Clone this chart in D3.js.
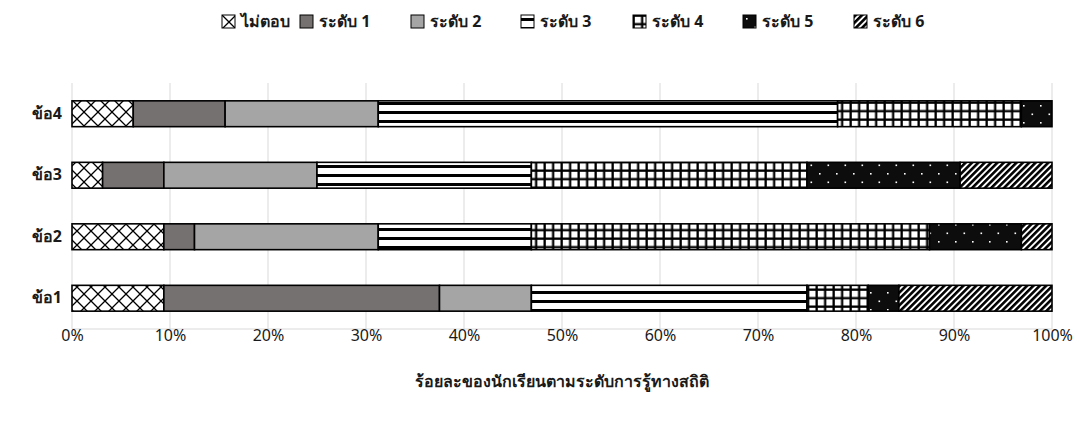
<!DOCTYPE html>
<html>
<head>
<meta charset="utf-8">
<script src="https://cdn.jsdelivr.net/npm/d3@7"></script>
<style>
  html, body { margin: 0; padding: 0; background: #fff; }
  svg { display: block; font-family: Tahoma, "Noto Sans", sans-serif; }
</style>
</head>
<body>
<svg id="chart" width="1080" height="426"></svg>
<script>
// Questions (bottom to top on the chart)
const questions = ["ข้อ1", "ข้อ2", "ข้อ3", "ข้อ4"];
// Response levels, in stacking order
const levels = ["ไม่ตอบ", "ระดับ 1", "ระดับ 2", "ระดับ 3", "ระดับ 4", "ระดับ 5", "ระดับ 6"];
// Percent of students per level, one value per question (ข้อ1..ข้อ4)
const noAnswer = [9.375, 9.375, 3.125, 6.25];
const level1   = [28.125, 3.125, 6.25, 9.375];
const level2   = [9.375, 18.75, 15.625, 15.625];
const level3   = [28.125, 15.625, 21.875, 46.875];
const level4   = [6.25, 40.625, 28.125, 18.75];
const level5   = [3.125, 9.375, 15.625, 3.125];
const level6   = [15.625, 3.125, 9.375, 0];
const xTicks = [0, 10, 20, 30, 40, 50, 60, 70, 80, 90, 100];
const xTitle = "ร้อยละของนักเรียนตามระดับการรู้ทางสถิติ";

const seriesValues = [noAnswer, level1, level2, level3, level4, level5, level6];
const rows = questions.map((q, i) => {
  const r = { q };
  levels.forEach((lv, j) => { r[lv] = seriesValues[j][i]; });
  return r;
});

const svg = d3.select("#chart");
const defs = svg.append("defs");
const textColor = "#1a1a1a";

// ---- fill patterns ----
function pat(id, w, h, extra) {
  const p = defs.append("pattern").attr("id", id)
    .attr("patternUnits", "userSpaceOnUse").attr("width", w).attr("height", h);
  if (extra) p.attr("patternTransform", extra);
  return p;
}
// diagonal cross lattice
{
  const p = pat("p0", 14, 14);
  p.append("rect").attr("width", 14).attr("height", 14).attr("fill", "#fff");
  p.append("path").attr("d", "M0,0L14,14M14,0L0,14").attr("stroke", "#000").attr("stroke-width", 1.3);
}
// horizontal bands
{
  const p = pat("p3", 9, 9);
  p.append("rect").attr("width", 9).attr("height", 9).attr("fill", "#fff");
  p.append("rect").attr("y", 3).attr("width", 9).attr("height", 3).attr("fill", "#000");
}
// square grid
{
  const p = pat("p4", 8.5, 8.5);
  p.append("rect").attr("width", 8.5).attr("height", 8.5).attr("fill", "#000");
  p.append("rect").attr("x", 1.8).attr("y", 1.8).attr("width", 6.2).attr("height", 6.2).attr("fill", "#fff");
}
// black with sparse dots
{
  const p = pat("p5", 17, 17);
  p.append("rect").attr("width", 17).attr("height", 17).attr("fill", "#0d0d0d");
  p.append("rect").attr("x", 3).attr("y", 3).attr("width", 1.6).attr("height", 1.6).attr("fill", "#fff");
  p.append("rect").attr("x", 11.5).attr("y", 11.5).attr("width", 1.6).attr("height", 1.6).attr("fill", "#fff");
}
// wide upward diagonal
{
  const p = pat("p6", 4.5, 4.5, "rotate(45)");
  p.append("rect").attr("width", 4.5).attr("height", 4.5).attr("fill", "#fff");
  p.append("rect").attr("width", 2.6).attr("height", 4.5).attr("fill", "#000");
}
const fills = ["url(#p0)", "#767171", "#a5a5a5", "url(#p3)", "url(#p4)", "url(#p5)", "url(#p6)"];
const color = d3.scaleOrdinal().domain(levels).range(fills);

// ---- scales ----
const x = d3.scaleLinear().domain([0, 100]).range([72, 1052]);
const y = d3.scaleBand().domain(questions.slice().reverse()).range([83, 329])
  .paddingInner(0.58).paddingOuter(0.29);

// gridlines
svg.append("g").selectAll("line").data(xTicks).join("line")
  .attr("x1", d => x(d)).attr("x2", d => x(d))
  .attr("y1", 83).attr("y2", 329)
  .attr("stroke", "#d9d9d9").attr("stroke-width", 1);
svg.append("line").attr("x1", x(0)).attr("x2", x(100)).attr("y1", 329).attr("y2", 329)
  .attr("stroke", "#d9d9d9").attr("stroke-width", 1);

// ---- stacked bars ----
const stacked = d3.stack().keys(levels)(rows);
svg.append("g").selectAll("g").data(stacked).join("g")
  .attr("fill", d => color(d.key))
  .selectAll("rect").data(d => d.filter(s => s[1] - s[0] > 0)).join("rect")
  .attr("x", d => x(d[0]))
  .attr("width", d => x(d[1]) - x(d[0]))
  .attr("y", d => y(d.data.q))
  .attr("height", y.bandwidth())
  .attr("stroke", "#000").attr("stroke-width", 1.6);

// ---- axes ----
const xAxis = svg.append("g").attr("transform", "translate(0,329)")
  .call(d3.axisBottom(x).tickValues(xTicks).tickFormat(d => d + "%").tickSize(0).tickPadding(1));
xAxis.select(".domain").remove();
xAxis.selectAll("text").attr("font-size", 16).attr("fill", textColor)
  .attr("font-family", 'Tahoma, "Noto Sans", sans-serif');

const yAxis = svg.append("g").attr("transform", "translate(62,0)")
  .call(d3.axisLeft(y).tickSize(0).tickPadding(0));
yAxis.select(".domain").remove();
yAxis.selectAll("text").attr("font-size", 16).attr("font-weight", "bold").attr("fill", textColor)
  .attr("font-family", 'Tahoma, "Noto Sans", sans-serif');

svg.append("text").attr("x", 562).attr("y", 387).attr("text-anchor", "middle")
  .attr("font-size", 16).attr("font-weight", "bold").attr("fill", textColor).text(xTitle);

// ---- legend ----
const legendX = [222, 300, 411, 521, 633, 743, 854];
const legend = svg.append("g").selectAll("g").data(levels).join("g")
  .attr("transform", (d, i) => `translate(${legendX[i]},15)`);
legend.append("rect").attr("width", 13).attr("height", 13)
  .attr("fill", d => color(d)).attr("stroke", "#000").attr("stroke-width", 1);
legend.append("text").attr("x", 19).attr("y", 11.5)
  .attr("font-size", 16).attr("font-weight", "bold").attr("fill", textColor).text(d => d);
</script>
</body>
</html>
